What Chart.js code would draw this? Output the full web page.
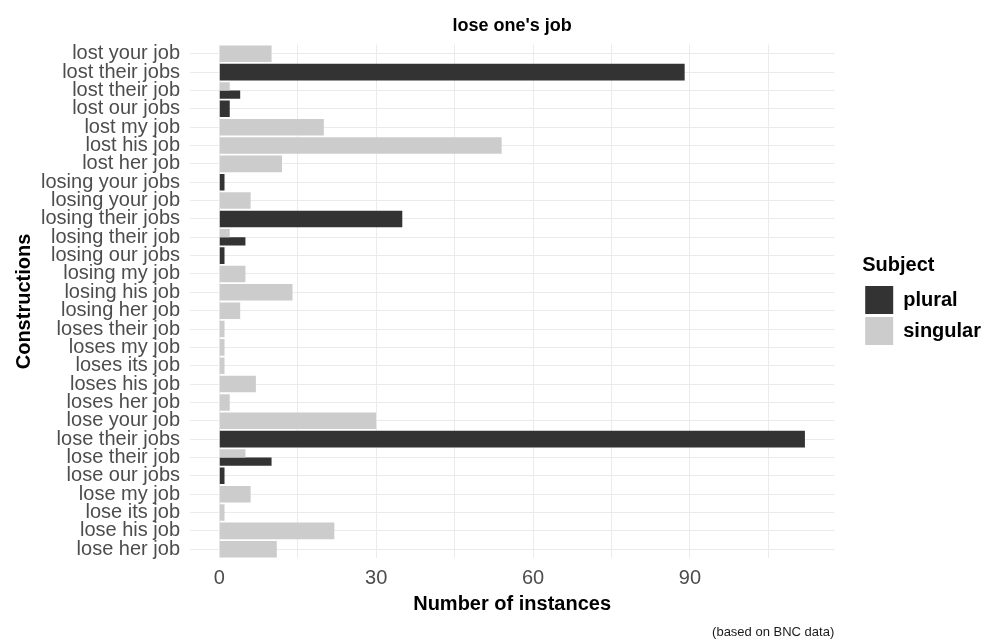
<!DOCTYPE html>
<html>
<head>
<meta charset="utf-8">
<script src="https://cdn.jsdelivr.net/npm/chart.js@4/dist/chart.umd.min.js"></script>
<style>
  html, body { margin: 0; padding: 0; background: #fff; }
</style>
</head>
<body>
<canvas id="jobChart" width="991" height="640"></canvas>
<script>
// constructions, listed top to bottom as in the plot
const constructions = [
    'lost your job', 'lost their jobs', 'lost their job', 'lost our jobs', 'lost my job',
    'lost his job', 'lost her job', 'losing your jobs', 'losing your job', 'losing their jobs',
    'losing their job', 'losing our jobs', 'losing my job', 'losing his job', 'losing her job',
    'loses their job', 'loses my job', 'loses its job', 'loses his job', 'loses her job',
    'lose your job', 'lose their jobs', 'lose their job', 'lose our jobs', 'lose my job',
    'lose its job', 'lose his job', 'lose her job'
];

// null = no bar for that subject
const singularCounts = [
    10, null, 2, null, 20,
    54, 12, null, 6, null,
    2, null, 5, 14, 4,
    1, 1, 1, 7, 2,
    30, null, 5, null, 6,
    1, 22, 11
];
const pluralCounts = [
    null, 89, 4, 2, null,
    null, null, 1, null, 35,
    5, 1, null, null, null,
    null, null, null, null, null,
    null, 112, 10, 1, null,
    null, null, null
];

// labelled ticks, plus the unlabelled minor grid lines
const xTickLabels = [0, 30, 60, 90];
const xGridValues = [0, 15, 30, 45, 60, 75, 90, 105];

const FONT = "'Liberation Sans', Arial, sans-serif";
const GRID = '#ebebeb';

const ctx = document.getElementById('jobChart').getContext('2d');

new Chart(ctx, {
    type: 'bar',
    data: {
        labels: constructions,
        datasets: [
            {
                label: 'singular',
                data: singularCounts,
                backgroundColor: '#cccccc',
                xAxisID: 'x',
                yAxisID: 'y'
            },
            {
                label: 'plural',
                data: pluralCounts,
                backgroundColor: '#333333',
                xAxisID: 'x',
                yAxisID: 'y'
            }
        ]
    },
    options: {
        indexAxis: 'y',
        responsive: false,
        animation: false,
        skipNull: true,
        categoryPercentage: 0.9,
        barPercentage: 1.0,
        layout: { padding: 0 },
        plugins: {
            title: {
                display: true,
                text: "lose one's job",
                fullSize: false,
                color: '#000',
                font: { family: FONT, size: 18, weight: 'bold' },
                padding: { top: 15, bottom: 8 }
            },
            subtitle: {
                display: true,
                text: '(based on BNC data)',
                position: 'bottom',
                align: 'end',
                fullSize: false,
                color: '#1a1a1a',
                font: { family: FONT, size: 13 },
                padding: { top: 0, bottom: 0 }
            },
            legend: {
                position: 'right',
                fullSize: false,
                reverse: true,
                title: {
                    display: true,
                    text: 'Subject',
                    position: 'start',
                    color: '#000',
                    font: { family: FONT, size: 20, weight: 'bold' },
                    padding: { top: 0, bottom: 4 }
                },
                labels: {
                    boxWidth: 28,
                    boxHeight: 28,
                    padding: 3,
                    color: '#000',
                    font: { family: FONT, size: 20, weight: 'bold' }
                }
            },
            tooltip: { enabled: false }
        },
        scales: {
            x: {
                type: 'linear',
                min: -5.6,
                max: 117.6,
                border: { display: false },
                grid: { drawTicks: false, lineWidth: 1, color: GRID },
                afterBuildTicks: s => { s.ticks = xGridValues.map(v => ({ value: v })); },
                ticks: {
                    padding: 8,
                    color: '#4d4d4d',
                    font: { family: FONT, size: 20 },
                    callback: v => xTickLabels.includes(v) ? String(v) : ''
                },
                title: {
                    display: true,
                    text: 'Number of instances',
                    color: '#000',
                    font: { family: FONT, size: 20, weight: 'bold' },
                    padding: { top: 0, bottom: 8 }
                },
                afterFit: s => { s.height = 66; }
            },
            y: {
                type: 'category',
                position: 'left',
                border: { display: false },
                grid: { offset: false, drawTicks: false, color: GRID, lineWidth: 1 },
                ticks: {
                    autoSkip: false,
                    padding: 10,
                    color: '#4d4d4d',
                    font: { family: FONT, size: 20 }
                },
                title: {
                    display: true,
                    text: 'Constructions',
                    color: '#000',
                    font: { family: FONT, size: 20, weight: 'bold' },
                    padding: { top: 12, bottom: 0 }
                },
                afterFit: s => { s.width = 190; }
            },
            // empty spacer between the panel and the legend
            y2: {
                type: 'linear',
                axis: 'y',
                position: 'right',
                display: true,
                border: { display: false },
                grid: { display: false },
                ticks: { display: false },
                afterFit: s => { s.width = 28; }
            }
        }
    }
});
</script>
</body>
</html>
